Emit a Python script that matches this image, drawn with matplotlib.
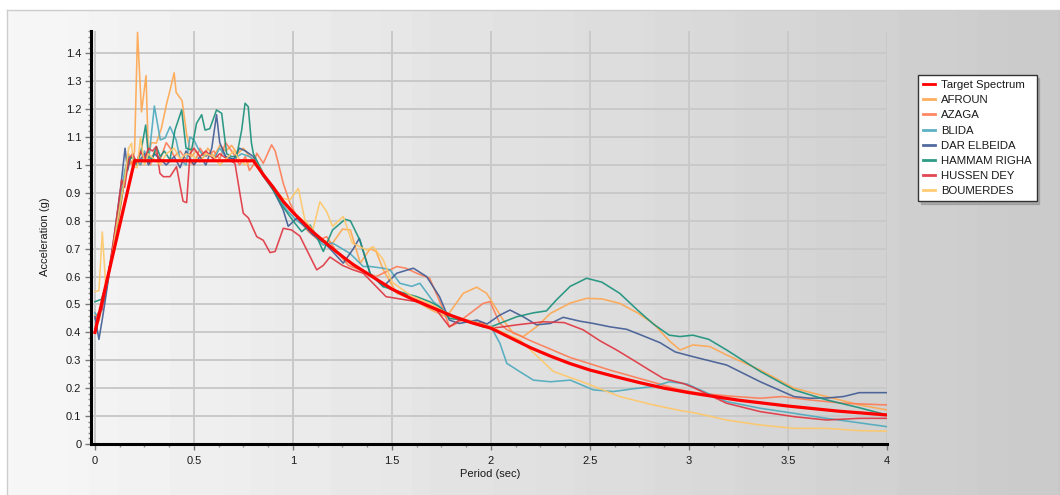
import numpy as np
import matplotlib
matplotlib.use("Agg")
import matplotlib.pyplot as plt
from matplotlib.ticker import MultipleLocator, FuncFormatter

plt.rcParams['font.family'] = ['Liberation Sans', 'DejaVu Sans']

# ---------------- data (period in s, acceleration in g) ----------------
target = [(0, 0.40), (0.2, 1.015), (0.8, 1.015), (0.85, 0.965), (0.9, 0.92), (0.95, 0.87),
          (1.0, 0.83), (1.05, 0.795), (1.1, 0.76), (1.15, 0.73), (1.2, 0.70), (1.25, 0.672),
          (1.3, 0.645), (1.4, 0.60), (1.5, 0.555), (1.6, 0.52), (1.7, 0.49), (1.8, 0.46),
          (1.9, 0.435), (2.0, 0.415), (2.1, 0.38), (2.2, 0.345), (2.3, 0.315), (2.4, 0.288),
          (2.5, 0.265), (2.625, 0.242), (2.75, 0.22), (2.875, 0.2), (3.0, 0.184),
          (3.25, 0.157), (3.5, 0.136), (3.75, 0.118), (4.0, 0.104)]

afroun = [(0, 0.46), (0.02, 0.44), (0.04, 0.50), (0.07, 0.62), (0.1, 0.72), (0.13, 0.85),
          (0.15, 0.95), (0.17, 1.04), (0.185, 1.0), (0.2, 1.05), (0.215, 1.475), (0.235, 1.19),
          (0.258, 1.32), (0.27, 1.03), (0.285, 1.08), (0.31, 1.078), (0.335, 1.13), (0.362, 1.22),
          (0.38, 1.27), (0.40, 1.33), (0.41, 1.26), (0.44, 1.23), (0.463, 1.11), (0.488, 1.03),
          (0.51, 1.05), (0.54, 1.02), (0.57, 1.06), (0.6, 1.03), (0.63, 1.07), (0.66, 1.05),
          (0.69, 1.07), (0.72, 1.04), (0.75, 1.06), (0.78, 1.03), (0.8, 1.02), (0.85, 0.96),
          (0.9, 0.91), (0.95, 0.87), (1.0, 0.83), (1.05, 0.80), (1.1, 0.76), (1.15, 0.73),
          (1.2, 0.72), (1.25, 0.77), (1.29, 0.767), (1.34, 0.648), (1.39, 0.70), (1.42, 0.69),
          (1.456, 0.624), (1.524, 0.54), (1.6, 0.52), (1.7, 0.48), (1.776, 0.456), (1.86, 0.54),
          (1.928, 0.562), (1.978, 0.54), (2.062, 0.444), (2.113, 0.397), (2.163, 0.385),
          (2.23, 0.42), (2.3, 0.468), (2.4, 0.505), (2.483, 0.522), (2.56, 0.52), (2.65, 0.504),
          (2.74, 0.47), (2.82, 0.432), (2.9, 0.37), (2.955, 0.337), (3.02, 0.355), (3.106, 0.349),
          (3.19, 0.319), (3.36, 0.265), (3.53, 0.2), (3.695, 0.17), (3.86, 0.14), (4.0, 0.122)]

azaga = [(0, 0.45), (0.02, 0.47), (0.05, 0.52), (0.1, 0.74), (0.13, 0.86), (0.15, 0.95),
         (0.17, 1.0), (0.2, 1.02), (0.23, 1.0), (0.25, 1.03), (0.28, 1.0), (0.3, 1.05),
         (0.33, 1.02), (0.36, 1.08), (0.38, 1.06), (0.4, 1.03), (0.43, 1.05), (0.46, 1.02),
         (0.5, 1.0), (0.53, 1.06), (0.56, 1.03), (0.6, 1.05), (0.63, 1.02), (0.66, 1.08),
         (0.7, 1.04), (0.73, 1.0), (0.76, 1.03), (0.78, 0.98), (0.8, 1.0), (0.817, 1.042),
         (0.85, 1.006), (0.892, 1.072), (0.91, 1.05), (0.926, 1.006), (0.951, 0.934),
         (0.985, 0.863), (1.03, 0.80), (1.08, 0.76), (1.13, 0.73), (1.17, 0.743), (1.22, 0.69),
         (1.28, 0.64), (1.35, 0.62), (1.42, 0.60), (1.49, 0.624), (1.524, 0.636), (1.57, 0.63),
         (1.625, 0.612), (1.69, 0.594), (1.76, 0.48), (1.79, 0.42), (1.827, 0.432),
         (1.894, 0.468), (1.961, 0.504), (1.995, 0.51), (2.045, 0.432), (2.08, 0.41),
         (2.2, 0.37), (2.4, 0.31), (2.6, 0.265), (2.8, 0.225), (2.95, 0.195), (3.056, 0.182),
         (3.2, 0.172), (3.36, 0.164), (3.47, 0.17), (3.61, 0.158), (3.78, 0.146), (4.0, 0.14)]

blida = [(0, 0.47), (0.02, 0.45), (0.05, 0.53), (0.1, 0.74), (0.13, 0.88), (0.15, 0.98),
         (0.17, 1.03), (0.2, 1.02), (0.23, 1.0), (0.25, 1.05), (0.27, 1.01), (0.3, 1.211),
         (0.33, 1.09), (0.354, 1.096), (0.379, 1.137), (0.41, 1.09), (0.43, 1.02), (0.46, 1.0),
         (0.48, 1.10), (0.5, 1.09), (0.52, 1.06), (0.55, 1.03), (0.58, 1.04), (0.6, 1.02),
         (0.63, 1.06), (0.66, 1.03), (0.7, 1.02), (0.74, 1.04), (0.78, 1.03), (0.8, 1.02),
         (0.85, 0.96), (0.9, 0.92), (0.968, 0.839), (1.02, 0.80), (1.08, 0.77), (1.153, 0.713),
         (1.2, 0.72), (1.288, 0.683), (1.355, 0.636), (1.39, 0.636), (1.456, 0.63),
         (1.49, 0.624), (1.54, 0.576), (1.6, 0.565), (1.641, 0.576), (1.709, 0.51),
         (1.776, 0.47), (1.84, 0.45), (1.96, 0.432), (2.0, 0.42), (2.045, 0.361), (2.08, 0.289),
         (2.146, 0.259), (2.214, 0.229), (2.3, 0.223), (2.4, 0.229), (2.517, 0.194),
         (2.618, 0.188), (2.72, 0.198), (2.82, 0.206), (2.9, 0.223), (2.99, 0.215), (3.1, 0.18),
         (3.19, 0.152), (3.36, 0.128), (3.53, 0.11), (3.695, 0.092), (3.86, 0.076), (4.0, 0.062)]

dar_elbeida = [(0, 0.456), (0.02, 0.375), (0.04, 0.46), (0.07, 0.6), (0.1, 0.76), (0.13, 0.92),
               (0.152, 1.06), (0.165, 0.98), (0.18, 1.03), (0.2, 1.02), (0.22, 1.01), (0.25, 1.04),
               (0.27, 1.0), (0.3, 1.04), (0.33, 1.02), (0.36, 1.0), (0.4, 1.03), (0.43, 0.99),
               (0.46, 1.05), (0.5, 1.0), (0.53, 1.03), (0.56, 1.0), (0.59, 1.06), (0.614, 1.18),
               (0.63, 1.08), (0.66, 1.03), (0.7, 1.02), (0.73, 1.06), (0.76, 1.05), (0.8, 1.03),
               (0.85, 0.96), (0.9, 0.91), (0.95, 0.84), (0.976, 0.78), (1.02, 0.81), (1.1, 0.75),
               (1.16, 0.72), (1.2, 0.69), (1.254, 0.648), (1.305, 0.70), (1.335, 0.737),
               (1.39, 0.61), (1.456, 0.564), (1.524, 0.612), (1.608, 0.63), (1.675, 0.60),
               (1.74, 0.528), (1.79, 0.444), (1.84, 0.432), (1.93, 0.444), (1.98, 0.43),
               (2.045, 0.462), (2.096, 0.48), (2.163, 0.456), (2.23, 0.427), (2.3, 0.432),
               (2.365, 0.454), (2.45, 0.44), (2.517, 0.432), (2.6, 0.42), (2.685, 0.411),
               (2.76, 0.39), (2.854, 0.363), (2.93, 0.33), (3.02, 0.313), (3.19, 0.283),
               (3.36, 0.223), (3.53, 0.17), (3.61, 0.164), (3.7, 0.165), (3.78, 0.17),
               (3.86, 0.184), (4.0, 0.184)]

hammam_righa = [(0, 0.51), (0.034, 0.519), (0.06, 0.58), (0.1, 0.74), (0.135, 0.886),
                (0.168, 1.018), (0.19, 1.03), (0.21, 1.0), (0.23, 1.04), (0.256, 1.143),
                (0.27, 1.03), (0.29, 1.02), (0.31, 1.066), (0.33, 1.03), (0.35, 1.05),
                (0.379, 1.018), (0.404, 1.125), (0.438, 1.197), (0.46, 1.06), (0.488, 1.054),
                (0.513, 1.149), (0.539, 1.18), (0.556, 1.125), (0.58, 1.13), (0.614, 1.197),
                (0.64, 1.185), (0.665, 1.04), (0.69, 1.03), (0.715, 1.03), (0.741, 1.125),
                (0.758, 1.221), (0.774, 1.209), (0.79, 1.08), (0.8, 1.04), (0.85, 0.97),
                (0.9, 0.91), (0.95, 0.85), (1.0, 0.80), (1.044, 0.761), (1.086, 0.785),
                (1.12, 0.743), (1.153, 0.69), (1.2, 0.767), (1.263, 0.805), (1.29, 0.80),
                (1.338, 0.73), (1.39, 0.61), (1.456, 0.564), (1.54, 0.545), (1.625, 0.528),
                (1.69, 0.51), (1.74, 0.492), (1.79, 0.45), (1.86, 0.444), (1.96, 0.42),
                (2.0, 0.42), (2.13, 0.456), (2.214, 0.47), (2.28, 0.477), (2.33, 0.516),
                (2.4, 0.565), (2.483, 0.594), (2.56, 0.58), (2.65, 0.54), (2.74, 0.48),
                (2.82, 0.43), (2.9, 0.39), (2.955, 0.385), (3.02, 0.39), (3.1, 0.375),
                (3.19, 0.337), (3.36, 0.26), (3.53, 0.194), (3.695, 0.158), (3.86, 0.13),
                (4.0, 0.104)]

hussen_dey = [(0, 0.41), (0.017, 0.47), (0.035, 0.48), (0.07, 0.62), (0.1, 0.76), (0.135, 0.946),
              (0.15, 0.92), (0.17, 1.02), (0.19, 1.04), (0.21, 1.01), (0.23, 1.05), (0.25, 1.02),
              (0.27, 1.06), (0.29, 1.05), (0.31, 1.066), (0.328, 0.97), (0.345, 0.958),
              (0.379, 0.958), (0.412, 0.994), (0.437, 0.9), (0.445, 0.87), (0.463, 0.865),
              (0.48, 1.04), (0.5, 1.06), (0.53, 1.03), (0.56, 1.05), (0.6, 1.02), (0.63, 1.04),
              (0.67, 1.02), (0.707, 1.006), (0.732, 0.898), (0.749, 0.827), (0.775, 0.81),
              (0.817, 0.743), (0.85, 0.73), (0.884, 0.686), (0.91, 0.69), (0.951, 0.773),
              (0.993, 0.767), (1.035, 0.745), (1.07, 0.695), (1.12, 0.624), (1.153, 0.64),
              (1.187, 0.67), (1.25, 0.64), (1.3, 0.625), (1.355, 0.612), (1.47, 0.528),
              (1.625, 0.51), (1.725, 0.48), (1.79, 0.42), (1.84, 0.444), (1.96, 0.432),
              (2.0, 0.415), (2.062, 0.42), (2.13, 0.427), (2.264, 0.438), (2.37, 0.435),
              (2.466, 0.409), (2.55, 0.37), (2.634, 0.337), (2.72, 0.30), (2.8, 0.265),
              (2.87, 0.235), (2.97, 0.217), (3.02, 0.203), (3.19, 0.146), (3.36, 0.116),
              (3.53, 0.098), (3.695, 0.086), (3.86, 0.092), (4.0, 0.092)]

boumerdes = [(0, 0.546), (0.02, 0.55), (0.037, 0.76), (0.055, 0.56), (0.08, 0.64), (0.1, 0.74),
             (0.13, 0.87), (0.15, 0.95), (0.17, 1.06), (0.185, 1.078), (0.194, 0.994),
             (0.213, 0.99), (0.23, 1.1), (0.25, 1.0), (0.27, 1.04), (0.3, 1.02), (0.33, 1.0),
             (0.36, 1.04), (0.4, 1.06), (0.43, 1.02), (0.46, 1.04), (0.5, 1.03), (0.53, 1.01),
             (0.56, 1.04), (0.6, 1.03), (0.63, 1.0), (0.66, 1.02), (0.7, 1.05), (0.73, 1.02),
             (0.76, 1.0), (0.8, 1.02), (0.85, 0.97), (0.9, 0.92), (0.95, 0.88), (0.985, 0.875),
             (1.027, 0.916), (1.06, 0.803), (1.1, 0.767), (1.136, 0.868), (1.17, 0.833),
             (1.2, 0.78), (1.254, 0.815), (1.3, 0.72), (1.372, 0.695), (1.406, 0.707),
             (1.456, 0.66), (1.5, 0.58), (1.6, 0.53), (1.7, 0.50), (1.8, 0.46), (1.9, 0.44),
             (2.0, 0.42), (2.06, 0.40), (2.146, 0.373), (2.315, 0.26), (2.483, 0.217),
             (2.65, 0.17), (2.82, 0.14), (2.955, 0.12), (3.04, 0.11), (3.19, 0.086),
             (3.36, 0.068), (3.53, 0.056), (3.695, 0.056), (3.86, 0.048), (4.0, 0.046)]

records = [("AFROUN", afroun, "#ffa64d"),
           ("AZAGA", azaga, "#ff7a52"),
           ("BLIDA", blida, "#4aa9bd"),
           ("DAR ELBEIDA", dar_elbeida, "#3f5a93"),
           ("HAMMAM RIGHA", hammam_righa, "#17907a"),
           ("HUSSEN DEY", hussen_dey, "#e0333f"),
           ("BOUMERDES", boumerdes, "#ffc766")]

x_ticks = [0, 0.5, 1, 1.5, 2, 2.5, 3, 3.5, 4]
y_ticks = [0, 0.1, 0.2, 0.3, 0.4, 0.5, 0.6, 0.7, 0.8, 0.9, 1, 1.1, 1.2, 1.3, 1.4]

# ---------------- figure ----------------
W, H = 1060, 495
fig = plt.figure(figsize=(W / 100, H / 100), dpi=100)
fig.patch.set_facecolor("white")

# background panel with horizontal gray gradient
bg = fig.add_axes([7 / W, 0, 1 - 7 / W, 1 - 10 / H], zorder=-10)
xs = np.linspace(0, 1, 600)
band = np.floor(xs * 13) / 13
vals = 0.965 - 0.18 * (0.6 * band + 0.4 * xs)
bg.imshow(vals[None, :], cmap="gray", vmin=0, vmax=1, aspect="auto",
          extent=[0, 1, 0, 1], interpolation="nearest")
bg.set_xticks([])
bg.set_yticks([])
for side, s in bg.spines.items():
    if side in ("top", "left"):
        s.set_color("#cdcdcd")
        s.set_linewidth(1)
    else:
        s.set_visible(False)

ax = fig.add_axes([91 / W, 1 - 444 / H, (887 - 91) / W, (444 - 31) / H])
ax.set_facecolor("none")

for name, pts, col in records:
    t, a = zip(*pts)
    ax.plot(t, a, color=col, lw=1.15, alpha=0.9, label=name, zorder=3)

tt, ta = zip(*target)
ax.plot(tt, ta, color="#ff0000", lw=2.3, label="Target Spectrum", zorder=5,
        solid_joinstyle="round")

ax.set_xlim(-0.02, 4.0)
ax.set_ylim(0, 1.48)
ax.set_xticks(x_ticks)
ax.set_yticks(y_ticks)
ax.xaxis.set_minor_locator(MultipleLocator(0.125))
ax.yaxis.set_minor_locator(MultipleLocator(0.02))
fmt = FuncFormatter(lambda v, p: "%g" % round(v, 3))
ax.xaxis.set_major_formatter(fmt)
ax.yaxis.set_major_formatter(fmt)

ax.set_axisbelow(True)
ax.grid(True, which="major", color="#c9c9c9", lw=1.4)
for side in ["top", "right"]:
    ax.spines[side].set_visible(False)
for side in ["left", "bottom"]:
    ax.spines[side].set_color("black")
    ax.spines[side].set_linewidth(2.2)

ax.tick_params(which="major", length=4, width=1, color="#7a7a7a",
               labelsize=8, labelcolor="#1a1a1a")
ax.tick_params(which="minor", length=2.5, width=1, color="#8a8a8a")
ax.tick_params(axis="x", which="major", pad=5)
ax.tick_params(axis="y", which="major", pad=3)

fig.text(45 / W, 1 - 237 / H, "Acceleration (g)", rotation=90, ha="center",
         va="center", fontsize=8, color="#1a1a1a")
fig.text(490 / W, 1 - 474 / H, "Period (sec)", ha="center", va="center",
         fontsize=8, color="#1a1a1a")

handles, labels = ax.get_legend_handles_labels()
order = [len(handles) - 1] + list(range(len(handles) - 1))
leg = fig.legend([handles[i] for i in order], [labels[i] for i in order],
                 loc="upper left", bbox_to_anchor=(918 / W, 1 - 75 / H),
                 frameon=True, fancybox=False, fontsize=8.2,
                 handlelength=1.05, handletextpad=0.5, borderpad=0.45,
                 labelspacing=0.45, borderaxespad=0,
                 shadow={"color": "#888888", "alpha": 0.5})
leg.get_frame().set_edgecolor("#333333")
leg.get_frame().set_linewidth(1)
leg.get_frame().set_facecolor("white")
leg.get_frame().set_alpha(1)
for txt in leg.get_texts():
    txt.set_color("#1a1a1a")
for line in leg.get_lines():
    line.set_linewidth(2)

fig.savefig("out.png", dpi=100)
